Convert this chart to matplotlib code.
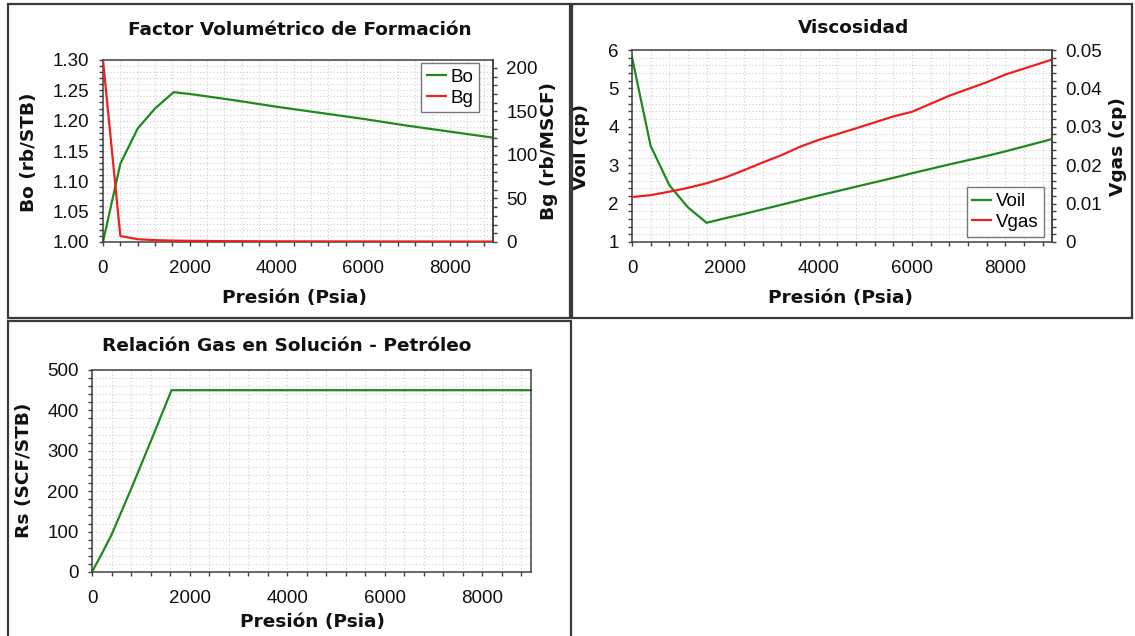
import matplotlib
matplotlib.use("Agg")
import matplotlib.pyplot as plt
from matplotlib.ticker import MultipleLocator, FuncFormatter
from matplotlib.patches import Rectangle

# ---------------------------------------------------------------- data
# Factor volumétrico de formación
pres_fvf = [0, 400, 800, 1200, 1630, 2000, 3000, 4000, 5000, 6000, 7000, 8000, 9000]
bo = [1.000, 1.129, 1.187, 1.220, 1.247, 1.244, 1.234, 1.223, 1.213, 1.203, 1.192, 1.182, 1.172]
bg = [209.0, 6.9, 3.2, 2.1, 1.6, 1.3, 0.95, 0.8, 0.7, 0.65, 0.6, 0.55, 0.5]

# Viscosidad
pres_visc = [0, 400, 800, 1200, 1600, 2000, 2400, 2800, 3200, 3600, 4000, 4800,
             5600, 6000, 6800, 7600, 8000, 9000]
voil = [5.81, 3.50, 2.48, 1.90, 1.50, 1.62, 1.73, 1.85, 1.97, 2.09, 2.21, 2.44,
        2.67, 2.79, 3.02, 3.24, 3.36, 3.68]
vgas = [0.0117, 0.0122, 0.0131, 0.0141, 0.0153, 0.0168, 0.0187, 0.0207, 0.0226,
        0.0248, 0.0266, 0.0296, 0.0327, 0.0339, 0.0381, 0.0416, 0.0436, 0.0475]

# Relación gas en solución - petróleo
pres_rs = [0, 200, 400, 800, 1200, 1630, 9000]
rs = [0, 45, 92, 205, 322, 450, 450]

x_ticks = [0, 2000, 4000, 6000, 8000]

# ---------------------------------------------------------------- style
W, H, DPI = 1135, 636, 100
GREEN = "#1e8a1e"
RED = "#ee1f1f"
GRID = "#cfcfcf"
SPINE = "#404040"
FRAME = "#3a3a3a"
LABEL_FONT = dict(family="DejaVu Sans", weight="bold", size=13.3, color="#111111")
TICK_SIZE = 13.5

plt.rcParams["font.family"] = ["Liberation Sans", "DejaVu Sans"]

fig = plt.figure(figsize=(W / DPI, H / DPI), dpi=DPI)
fig.patch.set_facecolor("white")


def rect_px(l, t, r, b):
    return [l / W, 1 - b / H, (r - l) / W, (b - t) / H]


def frame(l, t, r, b):
    fig.patches.append(Rectangle((l / W, 1 - b / H), (r - l) / W, (b - t) / H,
                                 transform=fig.transFigure, fill=False,
                                 ec=FRAME, lw=1.6))


def tick_style(ax):
    ax.tick_params(which="both", direction="out", color=SPINE, labelsize=TICK_SIZE,
                   labelcolor="#111111", width=1)
    ax.tick_params(which="major", length=3.2)
    ax.tick_params(which="minor", length=3.0)
    ax.tick_params(axis="y", which="major", pad=6.5)
    ax.tick_params(axis="x", which="major", pad=9.5)


def style_axis(ax):
    ax.set_xlim(0, 9000)
    ax.set_xticks(x_ticks)
    ax.xaxis.set_minor_locator(MultipleLocator(400))
    ax.grid(True, which="both", color=GRID, ls=(0, (1, 2)), lw=0.8)
    ax.set_axisbelow(True)
    for s in ax.spines.values():
        s.set_color(SPINE)
        s.set_linewidth(1.1)
    tick_style(ax)


def style_twin(ax):
    for s in ax.spines.values():
        s.set_visible(False)
    ax.spines["right"].set_visible(True)
    ax.spines["right"].set_color(SPINE)
    ax.spines["right"].set_linewidth(1.1)
    tick_style(ax)


def place_labels(ax, box, xlabel_xy, ylabel_xy, ax2=None, y2label_xy=None):
    l, t, r, b = box
    ax.xaxis.set_label_coords((xlabel_xy[0] - l) / (r - l), (b - xlabel_xy[1]) / (b - t))
    ax.yaxis.set_label_coords((ylabel_xy[0] - l) / (r - l), (b - ylabel_xy[1]) / (b - t))
    if ax2 is not None:
        ax2.yaxis.set_label_coords((y2label_xy[0] - l) / (r - l), (b - y2label_xy[1]) / (b - t))


def zero_or(fmt):
    return FuncFormatter(lambda v, _: "0" if abs(v) < 1e-12 else fmt % v)


def boxed_legend(ax, handles, labels, loc, anchor):
    leg = ax.legend(handles, labels, loc=loc, bbox_to_anchor=anchor, borderaxespad=0,
                    fontsize=13.5, handlelength=1.0, handletextpad=0.25,
                    labelspacing=0.2, borderpad=0.3, fancybox=False, framealpha=1)
    leg.get_frame().set_edgecolor("#777777")
    leg.get_frame().set_linewidth(1.0)
    return leg


# panel frames
frame(8, 4, 570, 318)
frame(572, 4, 1132, 318)
frame(8, 321, 571, 660)

LW = 1.6

# ---------------------------------------------------------------- panel 1
box1 = (103, 60, 493, 242)
ax1 = fig.add_axes(rect_px(*box1))
style_axis(ax1)
ax1.set_ylim(1.0, 1.3)
ax1.yaxis.set_major_locator(MultipleLocator(0.05))
ax1.yaxis.set_minor_locator(MultipleLocator(0.01))
ax1.yaxis.set_major_formatter(FuncFormatter(lambda v, _: "%.2f" % v))
l_bo, = ax1.plot(pres_fvf, bo, color=GREEN, lw=LW, label="Bo", clip_on=False)
ax1b = ax1.twinx()
style_twin(ax1b)
ax1b.set_ylim(0, 209)
ax1b.yaxis.set_major_locator(MultipleLocator(50))
ax1b.yaxis.set_minor_locator(MultipleLocator(10))
l_bg, = ax1b.plot(pres_fvf, bg, color=RED, lw=LW, label="Bg")
ax1.set_xlabel("Presión (Psia)", va="center", **LABEL_FONT)
ax1.set_ylabel("Bo (rb/STB)", va="center", **LABEL_FONT)
ax1b.set_ylabel("Bg (rb/MSCF)", va="center", rotation=90, **LABEL_FONT)
place_labels(ax1, box1, (294, 298), (29, 152), ax1b, (549, 151))
fig.text(300 / W, 1 - 30 / H, "Factor Volumétrico de Formación", ha="center",
         va="center", **LABEL_FONT)
boxed_legend(ax1b, [l_bo, l_bg], ["Bo", "Bg"], "upper right",
             ((479 - 103) / 390, 1 - 3 / 182))

# ---------------------------------------------------------------- panel 2
box2 = (632, 50, 1052, 242)
ax2 = fig.add_axes(rect_px(*box2))
style_axis(ax2)
ax2.set_ylim(1, 6)
ax2.yaxis.set_major_locator(MultipleLocator(1))
ax2.yaxis.set_minor_locator(MultipleLocator(0.2))
l_voil, = ax2.plot(pres_visc, voil, color=GREEN, lw=LW, label="Voil")
ax2b = ax2.twinx()
style_twin(ax2b)
ax2b.set_ylim(0, 0.05)
ax2b.yaxis.set_major_locator(MultipleLocator(0.01))
ax2b.yaxis.set_minor_locator(MultipleLocator(0.002))
ax2b.yaxis.set_major_formatter(zero_or("%.2f"))
l_vgas, = ax2b.plot(pres_visc, vgas, color=RED, lw=LW, label="Vgas")
ax2.set_xlabel("Presión (Psia)", va="center", **LABEL_FONT)
ax2.set_ylabel("Voil (cp)", va="center", **LABEL_FONT)
ax2b.set_ylabel("Vgas (cp)", va="center", rotation=90, **LABEL_FONT)
place_labels(ax2, box2, (841, 298), (581, 147), ax2b, (1118, 147))
fig.text(854 / W, 1 - 28 / H, "Viscosidad", ha="center", va="center", **LABEL_FONT)
boxed_legend(ax2b, [l_voil, l_vgas], ["Voil", "Vgas"], "lower right",
             ((1044 - 632) / 420, (242 - 236.6) / 192))

# ---------------------------------------------------------------- panel 3
box3 = (92, 370, 531, 572)
ax3 = fig.add_axes(rect_px(*box3))
style_axis(ax3)
ax3.set_ylim(0, 500)
ax3.yaxis.set_major_locator(MultipleLocator(100))
ax3.yaxis.set_minor_locator(MultipleLocator(20))
ax3.plot(pres_rs, rs, color=GREEN, lw=LW, clip_on=False)
ax3.set_xlabel("Presión (Psia)", va="center", **LABEL_FONT)
ax3.set_ylabel("Rs (SCF/STB)", va="center", **LABEL_FONT)
place_labels(ax3, box3, (312, 622), (24, 470))
fig.text(287 / W, 1 - 346 / H, "Relación Gas en Solución - Petróleo", ha="center",
         va="center", **LABEL_FONT)

fig.savefig("out.png", dpi=DPI, facecolor="white")
